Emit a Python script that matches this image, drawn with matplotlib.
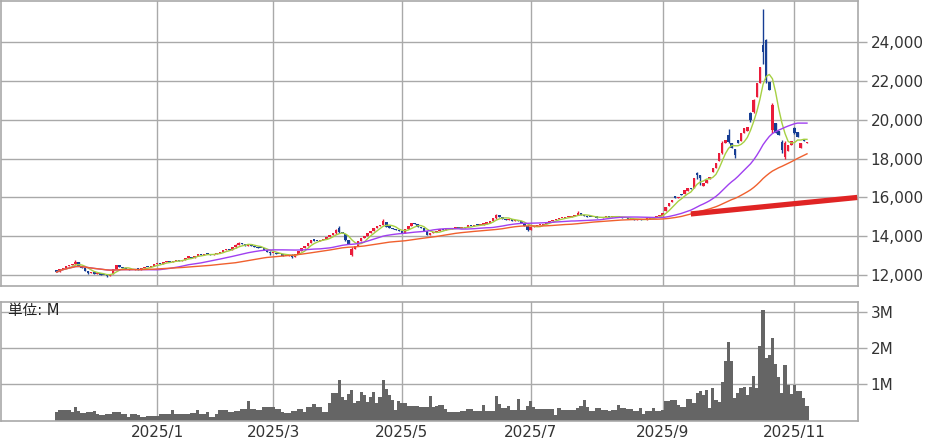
import matplotlib
matplotlib.use("Agg")
import matplotlib.pyplot as plt
import numpy as np
import pandas as pd

plt.rcParams['font.family'] = ['DejaVu Sans', 'Noto Sans CJK JP']

# trading calendar: daily bars from 2024/11/15, TSE holidays skipped
start_day = '2024-11-15'
n_days = 240
jp_holidays = ['2024-12-31', '2025-01-01', '2025-01-02', '2025-01-03', '2025-01-13',
               '2025-02-11', '2025-02-24', '2025-03-20', '2025-04-29', '2025-05-05',
               '2025-05-06', '2025-07-21', '2025-08-11', '2025-09-15', '2025-09-23',
               '2025-10-13', '2025-11-03']

closes = [
    12150, 12300, 12380, 12450, 12520, 12560, 12690, 12480, 12350, 12200,
    12120, 12180, 12060, 12100, 12020, 11980, 11950, 12050, 12300, 12500,
    12420, 12350, 12300, 12260, 12240, 12300, 12280, 12350, 12430, 12400,
    12480, 12550, 12600, 12580, 12650, 12700, 12680, 12740, 12770, 12720,
    12800, 12900, 12950, 12880, 13000, 13080, 13020, 13100, 13060, 13030,
    13090, 13150, 13200, 13280, 13330, 13300, 13420, 13550, 13650, 13580,
    13500, 13620, 13520, 13450, 13400, 13370, 13300, 13200, 13120, 13150,
    13100, 13080, 13000, 12980, 13050, 12940, 13100, 13250, 13370, 13500,
    13650, 13800, 13780, 13750, 13800, 13880, 13950, 14050, 14150, 14300,
    14200, 14150, 13800, 13600, 13350, 13500, 13750, 13900, 14000, 14180,
    14250, 14400, 14525, 14600, 14800, 14490, 14450, 14380, 14300, 14250,
    14150, 14350, 14550, 14700, 14620, 14490, 14400, 14250, 14060, 14150,
    14230, 14280, 14350, 14300, 14420, 14380, 14400, 14450, 14400, 14420,
    14500, 14550, 14520, 14580, 14560, 14600, 14650, 14700, 14780, 14920,
    15090, 14980, 14900, 14850, 14880, 14800, 14820, 14770, 14700, 14550,
    14320, 14490, 14520, 14560, 14580, 14650, 14750, 14800, 14850, 14880,
    14930, 14950, 14980, 15000, 15050, 15120, 15200, 15100, 15050, 15000,
    14980, 15000, 14960, 14950, 14980, 15020, 15000, 15050, 15000, 14980,
    14950, 14920, 14900, 14870, 14850, 14880, 14840, 14860, 14900, 14950,
    15000, 15050, 15100, 15180, 15520, 15700, 15870, 15950, 16000, 16120,
    16380, 16470, 16420, 16980, 17150, 16980, 16720, 16900, 17070, 17500,
    17760, 18270, 18790, 18950, 18870, 18530, 18190, 18790, 19300, 19560,
    19640, 20000, 21020, 21880, 22740, 23500, 22050, 21550, 20760, 19300,
    19200, 18440, 18800, 18700, 18900, 19300, 19110, 18790, 18900, 18880,
]

opens = [
    12250, 12150, 12300, 12380, 12450, 12520, 12560, 12650, 12480, 12350,
    12200, 12120, 12180, 12060, 12100, 12020, 11980, 11950, 12050, 12300,
    12500, 12420, 12350, 12300, 12260, 12240, 12300, 12280, 12350, 12430,
    12400, 12480, 12550, 12600, 12580, 12650, 12700, 12680, 12740, 12770,
    12720, 12800, 12900, 12950, 12880, 13000, 13080, 13020, 13100, 13060,
    13030, 13090, 13150, 13200, 13280, 13330, 13300, 13420, 13550, 13650,
    13580, 13500, 13620, 13520, 13450, 13400, 13370, 13300, 13200, 13120,
    13150, 13100, 13080, 13000, 12980, 13050, 12940, 13100, 13250, 13370,
    13500, 13650, 13800, 13780, 13750, 13800, 13880, 13950, 14050, 14150,
    14450, 14200, 14100, 13800, 13050, 13350, 13500, 13750, 13900, 14000,
    14180, 14250, 14400, 14525, 14600, 14750, 14490, 14450, 14380, 14300,
    14250, 14150, 14350, 14550, 14700, 14620, 14490, 14400, 14250, 14060,
    14150, 14230, 14280, 14350, 14300, 14420, 14380, 14400, 14450, 14400,
    14420, 14500, 14550, 14520, 14580, 14560, 14600, 14650, 14700, 14780,
    14920, 15090, 14980, 14900, 14850, 14880, 14800, 14820, 14770, 14700,
    14550, 14320, 14490, 14520, 14560, 14580, 14650, 14750, 14800, 14850,
    14880, 14930, 14950, 14980, 15000, 15050, 15120, 15200, 15100, 15050,
    15000, 14980, 15000, 14960, 14950, 14980, 15020, 15000, 15050, 15000,
    14980, 14950, 14920, 14900, 14870, 14850, 14880, 14840, 14860, 14900,
    14950, 15000, 15050, 15050, 15300, 15550, 15750, 16050, 15950, 16200,
    16200, 16350, 16500, 16500, 17250, 17150, 16600, 16750, 16950, 17300,
    17500, 17900, 18300, 18800, 19200, 18800, 18500, 18950, 18900, 19300,
    19450, 20350, 20420, 21200, 21880, 23850, 24100, 21960, 19470, 19830,
    19450, 18870, 18080, 18400, 18700, 19580, 19400, 18530, 19000, 18800,
]

# days with a visible shadow beyond the body: (day index, high, low)
wicks = [
    (6, 12780, 12540), (10, 12220, 12050), (16, 12000, 11880), (57, 13600, 13400),
    (58, 13720, 13530), (68, 13220, 13020), (75, 13060, 12880), (89, 14380, 14120),
    (90, 14550, 14150), (92, 14120, 13750), (94, 13450, 12980), (104, 14900, 14580),
    (140, 15150, 14900), (150, 14560, 14250), (166, 15280, 15100), (204, 17300, 16950),
    (205, 17180, 16640), (212, 18900, 18250), (214, 19550, 18800), (216, 18520, 18050),
    (221, 20400, 19900), (222, 21100, 20350), (225, 25700, 22900), (226, 24150, 21900),
    (228, 20850, 19300), (231, 18950, 18300), (232, 18900, 18000), (235, 19650, 19250),
]

volume_m = [
    0.24, 0.28, 0.28, 0.28, 0.28, 0.24, 0.38, 0.27, 0.22, 0.22,
    0.24, 0.24, 0.27, 0.19, 0.15, 0.15, 0.19, 0.19, 0.24, 0.24,
    0.24, 0.17, 0.17, 0.10, 0.18, 0.18, 0.15, 0.10, 0.10, 0.12,
    0.12, 0.12, 0.12, 0.19, 0.19, 0.19, 0.19, 0.28, 0.19, 0.19,
    0.19, 0.17, 0.17, 0.21, 0.21, 0.28, 0.19, 0.19, 0.24, 0.10,
    0.10, 0.19, 0.28, 0.28, 0.28, 0.24, 0.24, 0.27, 0.27, 0.33,
    0.33, 0.54, 0.33, 0.33, 0.28, 0.28, 0.37, 0.37, 0.37, 0.37,
    0.33, 0.33, 0.24, 0.21, 0.21, 0.27, 0.27, 0.33, 0.33, 0.24,
    0.36, 0.36, 0.45, 0.36, 0.36, 0.24, 0.24, 0.47, 0.75, 0.75,
    1.11, 0.65, 0.56, 0.73, 0.84, 0.47, 0.54, 0.79, 0.70, 0.52,
    0.65, 0.79, 0.47, 0.65, 1.11, 0.88, 0.70, 0.56, 0.28, 0.54,
    0.47, 0.47, 0.40, 0.40, 0.40, 0.40, 0.37, 0.37, 0.37, 0.69,
    0.37, 0.39, 0.43, 0.43, 0.31, 0.24, 0.24, 0.24, 0.24, 0.27,
    0.27, 0.31, 0.31, 0.26, 0.26, 0.26, 0.44, 0.25, 0.25, 0.25,
    0.69, 0.46, 0.34, 0.34, 0.39, 0.30, 0.30, 0.60, 0.30, 0.30,
    0.41, 0.53, 0.36, 0.33, 0.33, 0.33, 0.33, 0.33, 0.33, 0.16,
    0.34, 0.28, 0.28, 0.30, 0.30, 0.28, 0.34, 0.41, 0.56, 0.37,
    0.25, 0.25, 0.34, 0.34, 0.30, 0.30, 0.25, 0.30, 0.30, 0.43,
    0.34, 0.34, 0.31, 0.31, 0.25, 0.25, 0.34, 0.18, 0.25, 0.25,
    0.34, 0.27, 0.27, 0.30, 0.53, 0.53, 0.57, 0.57, 0.44, 0.37,
    0.37, 0.60, 0.60, 0.48, 0.76, 0.81, 0.71, 0.85, 0.34, 0.90,
    0.57, 0.50, 1.06, 1.64, 2.18, 1.64, 0.62, 0.76, 0.90, 0.93,
    0.71, 0.93, 1.24, 0.90, 2.06, 3.06, 1.73, 1.82, 2.29, 1.55,
    1.20, 0.76, 1.52, 0.99, 0.74, 0.99, 0.81, 0.81, 0.62, 0.41,
]

# support line drawn on the chart (day index, price)
trend_idx = [202, 255]
trend_val = [15150, 16000]

ma_windows = [5, 25, 50]
ma_colors = ['#a6d043', '#a040f0', '#f0602e']

label_months = ['2025-01', '2025-03', '2025-05', '2025-07', '2025-09', '2025-11']
month_labels = ['2025/1', '2025/3', '2025/5', '2025/7', '2025/9', '2025/11']
price_ticks = [12000, 14000, 16000, 18000, 20000, 22000, 24000]
vol_ticks = [1, 2, 3]
vol_tick_labels = ['1M', '2M', '3M']

UP = '#ea1c3a'
DOWN = '#173e94'
GRID = '#a9a9a9'
TEXT = '#333333'

dates = pd.bdate_range(start_day, periods=n_days, freq='C', holidays=jp_holidays)
x = np.arange(n_days)
o = np.array(opens, dtype=float)
c = np.array(closes, dtype=float)
hi = np.maximum(o, c)
lo = np.minimum(o, c)
for i, h, l in wicks:
    hi[i] = h
    lo[i] = l

periods = dates.to_period('M').astype(str)
tick_pos = [int(np.argmax(periods == m)) for m in label_months]

fig = plt.figure(figsize=(9.31, 4.40), dpi=100)
ax = fig.add_axes([0.0011, 0.3507, 0.9200, 0.6470])
axv = fig.add_axes([0.0011, 0.0443, 0.9200, 0.2686])

for a in (ax, axv):
    a.set_xlim(-17.7, 255.1)
    a.set_xticks(tick_pos)
    a.grid(True, color=GRID, lw=1.0)
    a.set_axisbelow(True)
    for s in a.spines.values():
        s.set_color(GRID)
        s.set_linewidth(1.2)
    a.yaxis.tick_right()
    a.tick_params(axis='y', length=6.5, width=1.0, color=GRID, pad=3,
                  labelsize=11, labelcolor=TEXT)
    a.tick_params(axis='x', length=0, labelsize=11, labelcolor=TEXT, pad=3)

# candles
up = c >= o
colors = np.where(up, UP, DOWN)
ax.vlines(x, lo, hi, colors=colors, lw=1.0, zorder=2)
body = np.maximum(np.abs(c - o), 60)
ax.bar(x, body, bottom=np.minimum(o, c), width=0.8, color=colors, lw=0, zorder=2)

# moving averages
cs = pd.Series(c)
for w, col in zip(ma_windows, ma_colors):
    ax.plot(x, cs.rolling(w, min_periods=1).mean(), color=col, lw=1.0, zorder=3)

ax.plot(trend_idx, trend_val, color='#e02424', lw=3.8, solid_capstyle='butt', zorder=4)

ax.set_ylim(11450, 26130)
ax.set_yticks(price_ticks)
ax.set_yticklabels([f'{v:,}' for v in price_ticks])
ax.set_xticklabels([])

# volume
axv.bar(x, volume_m, width=1.0, color='#656565', lw=0, zorder=2)
axv.set_ylim(0, 3.265)
axv.set_yticks(vol_ticks)
axv.set_yticklabels(vol_tick_labels)
axv.set_xticklabels(month_labels)
axv.text(0.008, 0.93, '単位: M', transform=axv.transAxes, fontsize=10.5,
         color='#222222', va='center', ha='left', zorder=5)

fig.savefig('out.png', dpi=100)
